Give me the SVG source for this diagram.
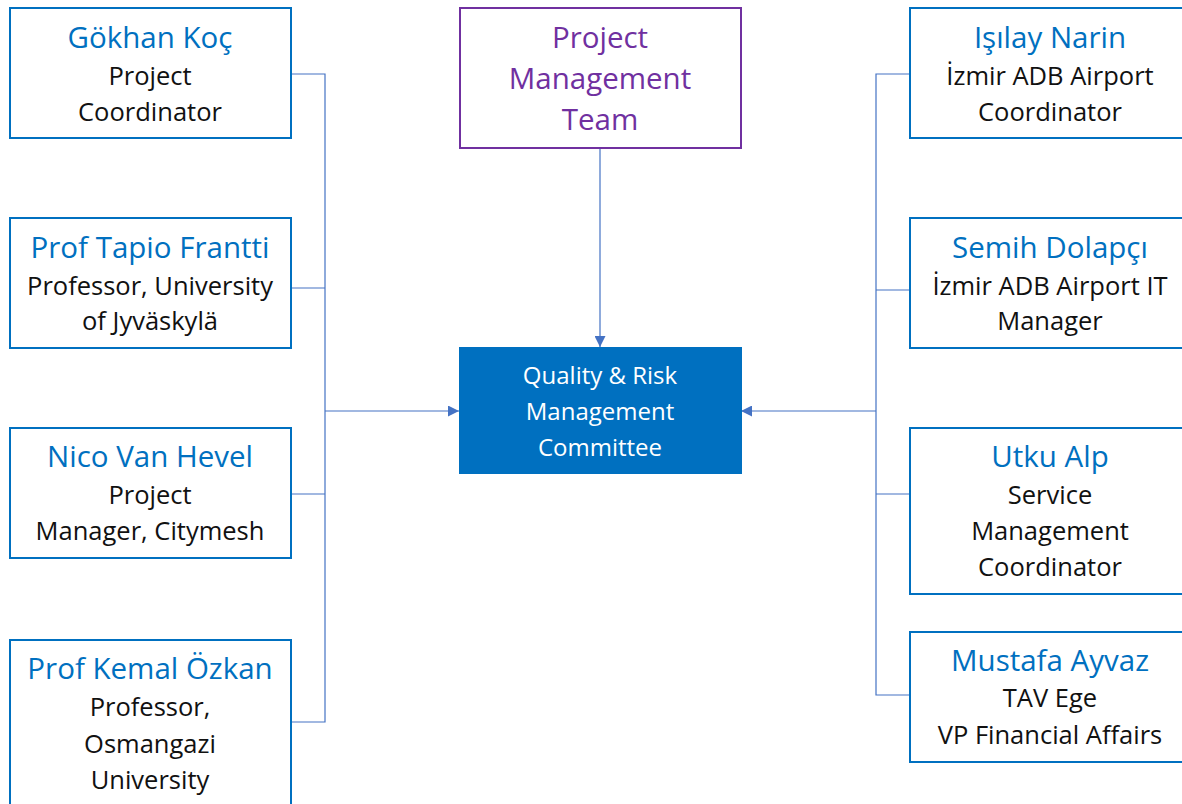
<svg xmlns="http://www.w3.org/2000/svg" width="1182" height="804" viewBox="0 0 1182 804">
  <style>
    .box { fill: #ffffff; stroke: #0070C0; stroke-width: 2; }
    .team { fill: #ffffff; stroke: #7030A0; stroke-width: 2; }
    .committee { fill: #0070C0; stroke: #0070C0; stroke-width: 2; }
    text { font-family: "Open Sans", "Noto Sans", "Liberation Sans", sans-serif; text-anchor: middle; }
    .name { font-size: 29.5px; fill: #0070C0; }
    .role { font-size: 25.5px; fill: #111111; }
    .teamtxt { font-size: 29.5px; fill: #7030A0; }
    .white { font-size: 24px; fill: #ffffff; }
    .conn { fill: none; stroke: #4472C4; stroke-width: 1.2; }
  </style>
  <defs>
    <marker id="arrow" viewBox="0 0 10 10" refX="10" refY="5" markerWidth="11" markerHeight="11" markerUnits="userSpaceOnUse" orient="auto">
      <path d="M0,0 L10,5 L0,10 z" fill="#4472C4"/>
    </marker>
  </defs>
  <rect width="1182" height="804" fill="#ffffff"/>

  <!-- connectors -->
  <g id="connectors">
    <polyline class="conn" points="291,74 325,74 325,722 291,722"/>
    <line class="conn" x1="291" y1="288" x2="325" y2="288"/>
    <line class="conn" x1="291" y1="494" x2="325" y2="494"/>
    <line class="conn" x1="325" y1="411" x2="459" y2="411" marker-end="url(#arrow)"/>
    <polyline class="conn" points="910,74 876,74 876,695 910,695"/>
    <line class="conn" x1="876" y1="290" x2="910" y2="290"/>
    <line class="conn" x1="876" y1="494" x2="910" y2="494"/>
    <line class="conn" x1="876" y1="411" x2="741" y2="411" marker-end="url(#arrow)"/>
    <line class="conn" x1="600" y1="148" x2="600" y2="347" marker-end="url(#arrow)"/>
  </g>

  <g id="team">
    <rect class="team" x="460" y="8" width="281" height="140"/>
    <text class="teamtxt" x="600" y="48">Project</text>
    <text class="teamtxt" x="600" y="89">Management</text>
    <text class="teamtxt" x="600" y="130">Team</text>
  </g>

  <g id="committee">
    <rect class="committee" x="460" y="348" width="281" height="125"/>
    <text class="white" x="600" y="384">Quality &amp; Risk</text>
    <text class="white" x="600" y="420">Management</text>
    <text class="white" x="600" y="456">Committee</text>
  </g>

  <g id="gokhan">
    <rect class="box" x="10" y="8" width="281" height="130"/>
    <text class="name" x="150" y="48">Gökhan Koç</text>
    <text class="role" x="150" y="85">Project</text>
    <text class="role" x="150" y="121">Coordinator</text>
  </g>

  <g id="tapio">
    <rect class="box" x="10" y="218" width="281" height="130"/>
    <text class="name" x="150" y="258">Prof Tapio Frantti</text>
    <text class="role" x="150" y="295">Professor, University</text>
    <text class="role" x="150" y="330">of Jyväskylä</text>
  </g>

  <g id="nico">
    <rect class="box" x="10" y="428" width="281" height="130"/>
    <text class="name" x="150" y="467">Nico Van Hevel</text>
    <text class="role" x="150" y="504">Project</text>
    <text class="role" x="150" y="540">Manager, Citymesh</text>
  </g>

  <g id="kemal">
    <rect class="box" x="10" y="640" width="281" height="180"/>
    <text class="name" x="150" y="679">Prof Kemal Özkan</text>
    <text class="role" x="150" y="716">Professor,</text>
    <text class="role" x="150" y="753">Osmangazi</text>
    <text class="role" x="150" y="789">University</text>
  </g>

  <g id="isilay">
    <rect class="box" x="910" y="8" width="290" height="130"/>
    <text class="name" x="1050" y="48">Işılay Narin</text>
    <text class="role" x="1050" y="85">İzmir ADB Airport</text>
    <text class="role" x="1050" y="121">Coordinator</text>
  </g>

  <g id="semih">
    <rect class="box" x="910" y="218" width="290" height="130"/>
    <text class="name" x="1050" y="258">Semih Dolapçı</text>
    <text class="role" x="1050" y="295">İzmir ADB Airport IT</text>
    <text class="role" x="1050" y="330">Manager</text>
  </g>

  <g id="utku">
    <rect class="box" x="910" y="428" width="290" height="166"/>
    <text class="name" x="1050" y="467">Utku Alp</text>
    <text class="role" x="1050" y="504">Service</text>
    <text class="role" x="1050" y="540">Management</text>
    <text class="role" x="1050" y="576">Coordinator</text>
  </g>

  <g id="mustafa">
    <rect class="box" x="910" y="632" width="290" height="130"/>
    <text class="name" x="1050" y="671">Mustafa Ayvaz</text>
    <text class="role" x="1050" y="707">TAV Ege</text>
    <text class="role" x="1050" y="744">VP Financial Affairs</text>
  </g>
</svg>
